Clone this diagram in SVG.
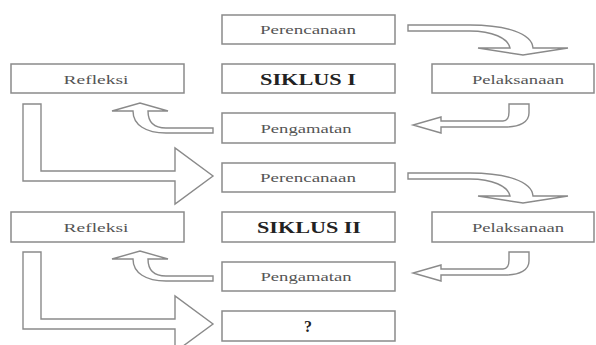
<svg xmlns="http://www.w3.org/2000/svg" width="596" height="345" viewBox="0 0 596 345">
<style>
.box{fill:#fff;stroke:#8a8a8a;stroke-width:1.5}
.arr{fill:#fff;stroke:#8a8a8a;stroke-width:1.4;stroke-linejoin:miter}
.t{font-family:"Liberation Serif","Times New Roman",serif;font-size:12px;fill:#555;text-anchor:middle}
.b{font-family:"Liberation Serif","Times New Roman",serif;font-size:16px;font-weight:bold;fill:#222;text-anchor:middle}
</style>
<rect width="596" height="345" fill="#fff"/>
<g id="connectors">
  <g id="cycle1-arrows">
    <path class="arr" d="M408,25 L470,25 C505,25 532,33 533,48 L568,48 L523,55 L478,48 L510,48 C508,38 492,31 470,31 L408,31 Z"/>
    <path class="arr" d="M509,104 L529,104 L529,113 C529,122 520,127 505,127 L441,127 L441,133 L413,125 L441,117 L441,121 L503,121 C508,121 509,117 509,112 Z"/>
    <path class="arr" d="M213,128 L166,128 C153,128 148,121 148,111 L168,111 L140,103 L112,111 L133,111 C133,125 146,133 166,133 L213,133 Z"/>
    <path class="arr" d="M23,104 L41,104 L41,171 L175,171 L175,148 L213,176 L175,204 L175,181 L23,181 Z"/>
  </g>
  <g id="cycle2-arrows" transform="translate(0,148)">
    <path class="arr" d="M408,25 L470,25 C505,25 532,33 533,48 L568,48 L523,55 L478,48 L510,48 C508,38 492,31 470,31 L408,31 Z"/>
    <path class="arr" d="M509,104 L529,104 L529,113 C529,122 520,127 505,127 L441,127 L441,133 L413,125 L441,117 L441,121 L503,121 C508,121 509,117 509,112 Z"/>
    <path class="arr" d="M213,128 L166,128 C153,128 148,121 148,111 L168,111 L140,103 L112,111 L133,111 C133,125 146,133 166,133 L213,133 Z"/>
    <path class="arr" d="M23,104 L41,104 L41,171 L175,171 L175,148 L213,176 L175,204 L175,181 L23,181 Z"/>
  </g>
</g>
<g id="perencanaan1"><rect class="box" x="222" y="15" width="173" height="29"/><text class="t" x="308" y="34" textLength="96" lengthAdjust="spacingAndGlyphs">Perencanaan</text></g>
<g id="refleksi1"><rect class="box" x="11" y="64" width="173" height="29"/><text class="t" x="96" y="84" textLength="65" lengthAdjust="spacingAndGlyphs">Refleksi</text></g>
<g id="siklus1"><rect class="box" x="222" y="64" width="173" height="29"/><text class="b" x="308" y="85" textLength="96" lengthAdjust="spacingAndGlyphs">SIKLUS I</text></g>
<g id="pelaksanaan1"><rect class="box" x="432" y="64" width="162" height="29"/><text class="t" x="518" y="84" textLength="92" lengthAdjust="spacingAndGlyphs">Pelaksanaan</text></g>
<g id="pengamatan1"><rect class="box" x="222" y="113" width="173" height="30"/><text class="t" x="306" y="133" textLength="91" lengthAdjust="spacingAndGlyphs">Pengamatan</text></g>
<g id="perencanaan2"><rect class="box" x="222" y="163" width="173" height="29"/><text class="t" x="308" y="182" textLength="96" lengthAdjust="spacingAndGlyphs">Perencanaan</text></g>
<g id="refleksi2"><rect class="box" x="11" y="212" width="173" height="30"/><text class="t" x="96" y="232" textLength="65" lengthAdjust="spacingAndGlyphs">Refleksi</text></g>
<g id="siklus2"><rect class="box" x="222" y="212" width="173" height="30"/><text class="b" x="309" y="233" textLength="104" lengthAdjust="spacingAndGlyphs">SIKLUS II</text></g>
<g id="pelaksanaan2"><rect class="box" x="432" y="212" width="162" height="30"/><text class="t" x="518" y="232" textLength="92" lengthAdjust="spacingAndGlyphs">Pelaksanaan</text></g>
<g id="pengamatan2"><rect class="box" x="222" y="262" width="173" height="29"/><text class="t" x="306" y="281" textLength="91" lengthAdjust="spacingAndGlyphs">Pengamatan</text></g>
<g id="next"><rect class="box" x="222" y="311" width="173" height="30"/><text class="b" x="308" y="332">?</text></g>
</svg>
